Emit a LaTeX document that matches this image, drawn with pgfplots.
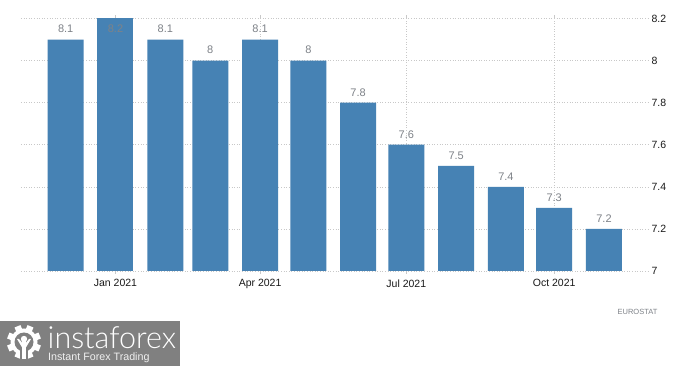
\documentclass[border=0pt]{standalone}
\usepackage{pgfplots}
\pgfplotsset{compat=1.18}
\usepackage{fontspec}
\setmainfont{Liberation Sans}
\newfontfamily\logofont{Lato Light}
\definecolor{barblue}{HTML}{4682B4}
\definecolor{gridc}{HTML}{C8C8C8}
\definecolor{lblgray}{HTML}{7E8288}
\definecolor{logogray}{HTML}{808080}
\definecolor{tickc}{HTML}{1A1A1A}
\begin{document}
\begin{tikzpicture}[x=1pt,y=1pt]
\path[use as bounding box,fill=white] (0,0) rectangle (700,366);
\begin{axis}[
  at={(21pt,95pt)},anchor=south west,
  scale only axis,width=627pt,height=252.5pt,
  xmin=-58.8,xmax=331.4,ymin=7,ymax=8.2,
  axis line style={draw=none},
  xtick={0,90,181,273},
  xticklabels={Jan 2021,Apr 2021,Jul 2021,Oct 2021},
  ytick={7,7.2,7.4,7.6,7.8,8,8.2},
  yticklabel pos=right,
  /pgf/number format/assume math mode=true,
  tick label style={font=\fontsize{10.5}{12}\selectfont,text=tickc},
  yticklabel style={anchor=west,xshift=-3pt},
  xticklabel style={yshift=-2pt},
  xtick style={draw=gridc,line width=.6pt},
  ytick style={draw=none},
  tick align=outside,
  major tick length=3pt,
  ymajorgrids,xmajorgrids,
  grid style={draw=gridc,line width=.6pt,dotted},
  axis on top=false,
  ybar,bar width=36pt,
  ]
\addplot[ybar,fill=barblue,draw=none,bar shift=0pt,
  nodes near coords,
  nodes near coords style={font=\fontsize{11}{12}\selectfont,text=lblgray,anchor=south,yshift=3pt}]
  coordinates {(-31,8.1)(31,8.1)(59,8)(90,8.1)(120,8)(151,7.8)(181,7.6)(212,7.5)(243,7.4)(273,7.3)(304,7.2)};
\addplot[ybar,fill=barblue,draw=none,bar shift=0pt,
  nodes near coords,
  nodes near coords style={font=\fontsize{11}{12}\selectfont,text=lblgray,anchor=north,yshift=-3pt}]
  coordinates {(0,8.2)};
\end{axis}
\node[anchor=center,font=\fontsize{7.5}{9}\selectfont,text=lblgray] at (637.5,54) {EUROSTAT};
% logo
\fill[logogray] (0,0) rectangle (180,45);
\begin{scope}[shift={(24,24)}]
  \foreach \a in {0,45,...,315}{\fill[white,rotate=\a+22.5] (-3.2,10) rectangle (3.2,17);}
  \fill[white] (0,0) circle (13.5);
  \fill[logogray] (0,0) circle (9.5);
  \fill[logogray] (-4,-18) rectangle (4,-8);
  \fill[white] (0,3) circle (3.2);
  \fill[white] (-1.6,-17) rectangle (1.6,1);
  \fill[white] (-7,3) -- (-5,3) -- (0,-3) -- (5,3) -- (7,3) -- (1.6,-6) -- (-1.6,-6) -- cycle;
\end{scope}
\node[anchor=base west,inner sep=0pt,text=white,font=\logofont\fontsize{30.5}{36}\selectfont] at (47.5,17) {instaforex};
\node[anchor=base west,inner sep=0pt,text=white!88!logogray,font=\fontsize{10.7}{13}\selectfont] at (48,5.5) {Instant Forex Trading};
\end{tikzpicture}
\end{document}
